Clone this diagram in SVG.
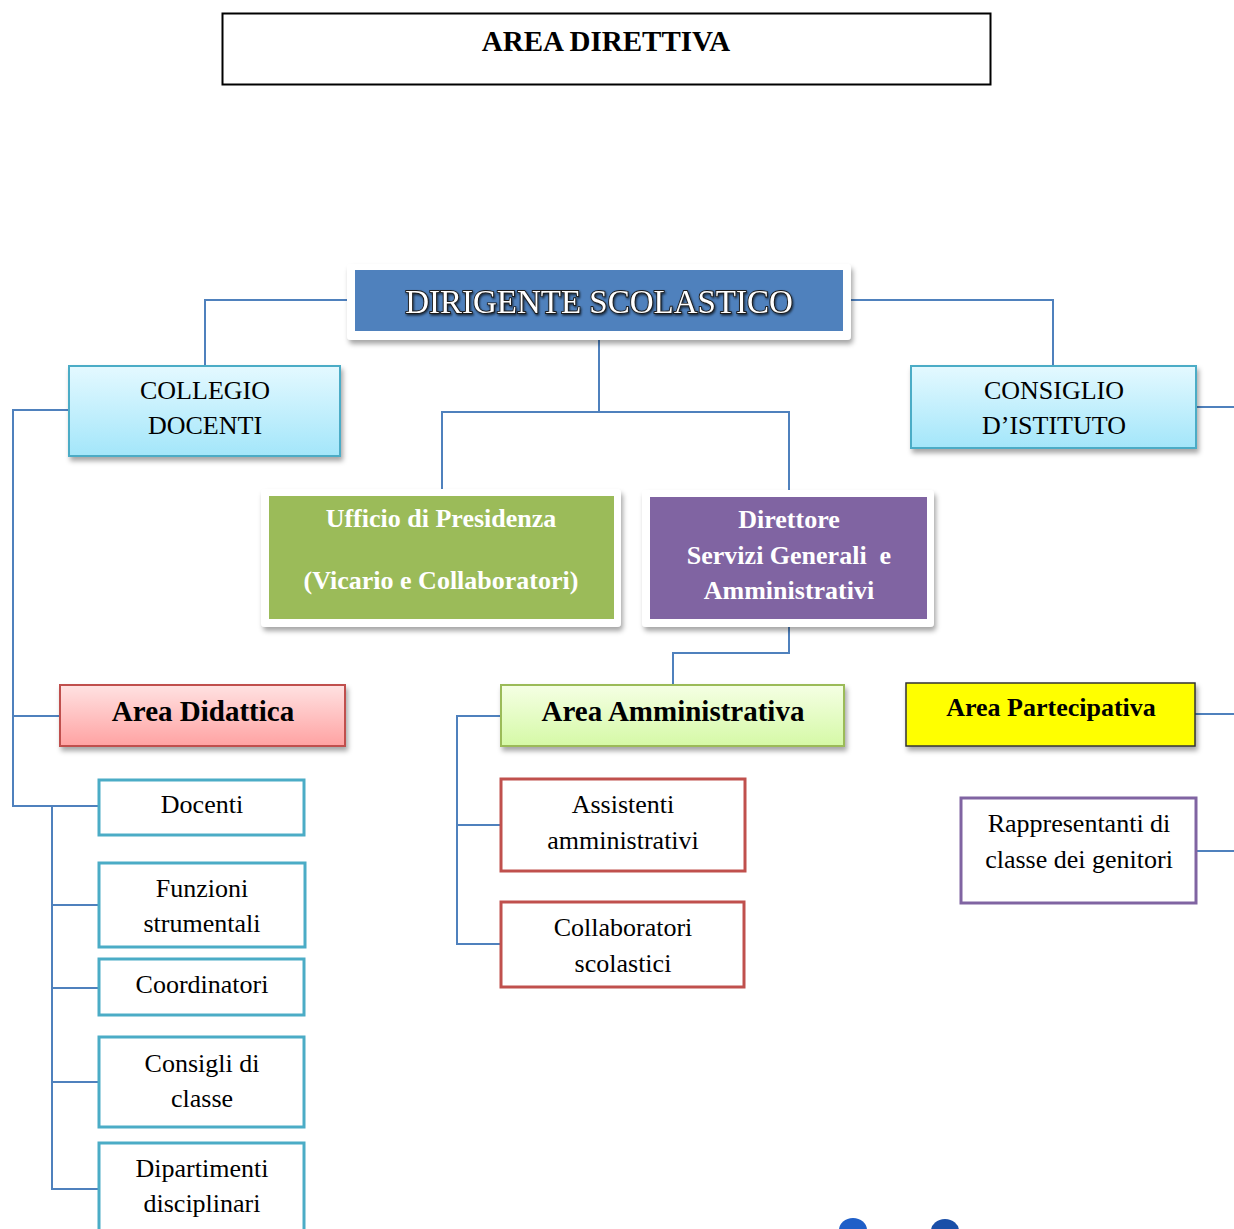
<svg xmlns="http://www.w3.org/2000/svg" width="1234" height="1229" viewBox="0 0 1234 1229">
<defs>
  <filter id="sh" x="-10%" y="-20%" width="125%" height="150%">
    <feDropShadow dx="2" dy="4" stdDeviation="2.5" flood-color="#000" flood-opacity="0.35"/>
  </filter>
  <filter id="tsh" x="-5%" y="-20%" width="110%" height="150%">
    <feDropShadow dx="1" dy="1.5" stdDeviation="1" flood-color="#000" flood-opacity="0.7"/>
  </filter>
  <linearGradient id="gCyan" x1="0" y1="0" x2="0" y2="1">
    <stop offset="0" stop-color="#E4F9FF"/><stop offset="1" stop-color="#A3E6FA"/>
  </linearGradient>
  <linearGradient id="gPink" x1="0" y1="0" x2="0" y2="1">
    <stop offset="0" stop-color="#FFE2E2"/><stop offset="1" stop-color="#FFA2A2"/>
  </linearGradient>
  <linearGradient id="gLime" x1="0" y1="0" x2="0" y2="1">
    <stop offset="0" stop-color="#F5FFE4"/><stop offset="1" stop-color="#D5F9A6"/>
  </linearGradient>
</defs>
<style>
  .conn { fill: none; stroke: #4F81BD; stroke-width: 2; }
  .t { font-family: "Liberation Serif", "Times New Roman", serif; text-anchor: middle; fill: #000; }
  .reg { font-size: 26px; }
  .bold { font-weight: bold; }
  .wb { font-family: "Liberation Serif", "Times New Roman", serif; text-anchor: middle; fill: #fff; font-weight: bold; font-size: 26px; }
  .item { fill: #fff; stroke-width: 3; }
  .cyanbox { fill: url(#gCyan); stroke: #4BACC6; stroke-width: 2; }
</style>
<rect width="1234" height="1229" fill="#fff"/>

<g id="connectors">
  <polyline class="conn" points="350,300 205,300 205,366"/>
  <polyline class="conn" points="848,300 1053,300 1053,366"/>
  <polyline class="conn" points="599,336 599,412"/>
  <polyline class="conn" points="442,490 442,412 789,412 789,495"/>
  <polyline class="conn" points="1196,407 1234,407"/>
  <polyline class="conn" points="69,410 13,410 13,806 99,806"/>
  <polyline class="conn" points="13,716 60,716"/>
  <polyline class="conn" points="52,806 52,1189 99,1189"/>
  <polyline class="conn" points="52,905 99,905"/>
  <polyline class="conn" points="52,988 99,988"/>
  <polyline class="conn" points="52,1082 99,1082"/>
  <polyline class="conn" points="789,622 789,653 673,653 673,685"/>
  <polyline class="conn" points="501,716 457,716 457,944 501,944"/>
  <polyline class="conn" points="457,825 501,825"/>
  <polyline class="conn" points="1195,714 1234,714"/>
  <polyline class="conn" points="1196,851 1234,851"/>
</g>

<g id="area-direttiva">
  <rect x="222.5" y="13.5" width="768" height="71" fill="#fff" stroke="#000" stroke-width="2"/>
  <text class="t bold" x="606" y="51" font-size="29">AREA DIRETTIVA</text>
</g>

<g id="dirigente">
  <rect x="347" y="264" width="504" height="76" rx="4" fill="#fff" filter="url(#sh)"/>
  <rect x="355" y="270" width="488" height="61" fill="#4F81BD"/>
  <text class="t" x="599" y="313" font-size="33" stroke="#1a1a1a" stroke-width="1.8" paint-order="stroke" filter="url(#tsh)" style="fill:#fff">DIRIGENTE SCOLASTICO</text>
</g>

<g id="collegio">
  <rect class="cyanbox" x="69" y="366" width="271" height="90" filter="url(#sh)"/>
  <text class="t reg" x="205" y="399">COLLEGIO</text>
  <text class="t reg" x="205" y="434">DOCENTI</text>
</g>

<g id="consiglio">
  <rect class="cyanbox" x="911" y="366" width="285" height="82" filter="url(#sh)"/>
  <text class="t reg" x="1054" y="399">CONSIGLIO</text>
  <text class="t reg" x="1054" y="434">D’ISTITUTO</text>
</g>

<g id="ufficio">
  <rect x="261" y="489" width="360" height="138" rx="4" fill="#fff" filter="url(#sh)"/>
  <rect x="269" y="496" width="345" height="123" fill="#9BBB59"/>
  <text class="wb" x="441" y="527">Ufficio di Presidenza</text>
  <text class="wb" x="441" y="589">(Vicario e Collaboratori)</text>
</g>

<g id="direttore">
  <rect x="642" y="490" width="292" height="137" rx="4" fill="#fff" filter="url(#sh)"/>
  <rect x="650" y="497" width="277" height="122" fill="#8064A2"/>
  <text class="wb" x="789" y="528">Direttore</text>
  <text class="wb" x="789" y="564" xml:space="preserve">Servizi Generali  e</text>
  <text class="wb" x="789" y="599">Amministrativi</text>
</g>

<g id="area-didattica">
  <rect x="60" y="685" width="285" height="61" fill="url(#gPink)" stroke="#C0504D" stroke-width="2" filter="url(#sh)"/>
  <text class="t bold" x="203" y="721" font-size="29">Area Didattica</text>
</g>

<g id="area-amministrativa">
  <rect x="501" y="685" width="343" height="61" fill="url(#gLime)" stroke="#9BBB59" stroke-width="2" filter="url(#sh)"/>
  <text class="t bold" x="673" y="721" font-size="29">Area Amministrativa</text>
</g>

<g id="area-partecipativa">
  <rect x="906" y="683" width="289" height="63" fill="#FFFF00" stroke="#333" stroke-width="1.5" filter="url(#sh)"/>
  <text class="t bold" x="1051" y="716" font-size="26">Area Partecipativa</text>
</g>

<g id="rappresentanti">
  <rect class="item" x="961" y="798" width="235" height="105" stroke="#8064A2"/>
  <text class="t reg" x="1079" y="832">Rappresentanti di</text>
  <text class="t reg" x="1079" y="868">classe dei genitori</text>
</g>

<g id="docenti">
  <rect class="item" x="99" y="780" width="205" height="55" stroke="#4BACC6"/>
  <text class="t reg" x="202" y="813">Docenti</text>
</g>
<g id="funzioni">
  <rect class="item" x="99" y="863" width="206" height="84" stroke="#4BACC6"/>
  <text class="t reg" x="202" y="897">Funzioni</text>
  <text class="t reg" x="202" y="932">strumentali</text>
</g>
<g id="coordinatori">
  <rect class="item" x="99" y="959" width="205" height="56" stroke="#4BACC6"/>
  <text class="t reg" x="202" y="993">Coordinatori</text>
</g>
<g id="consigli">
  <rect class="item" x="99" y="1037" width="205" height="90" stroke="#4BACC6"/>
  <text class="t reg" x="202" y="1072">Consigli di</text>
  <text class="t reg" x="202" y="1107">classe</text>
</g>
<g id="dipartimenti">
  <rect class="item" x="99" y="1143" width="205" height="100" stroke="#4BACC6"/>
  <text class="t reg" x="202" y="1177">Dipartimenti</text>
  <text class="t reg" x="202" y="1212">disciplinari</text>
</g>

<g id="assistenti">
  <rect class="item" x="501" y="779" width="244" height="92" stroke="#C0504D"/>
  <text class="t reg" x="623" y="813">Assistenti</text>
  <text class="t reg" x="623" y="849">amministrativi</text>
</g>
<g id="collaboratori">
  <rect class="item" x="501" y="902" width="243" height="85" stroke="#C0504D"/>
  <text class="t reg" x="623" y="936">Collaboratori</text>
  <text class="t reg" x="623" y="972">scolastici</text>
</g>

<g id="bottom-fragments">
  <ellipse cx="853" cy="1230" rx="14" ry="12" fill="#1F5FC8"/>
  <ellipse cx="945" cy="1231" rx="14" ry="12" fill="#1A4FA8"/>
</g>
</svg>
